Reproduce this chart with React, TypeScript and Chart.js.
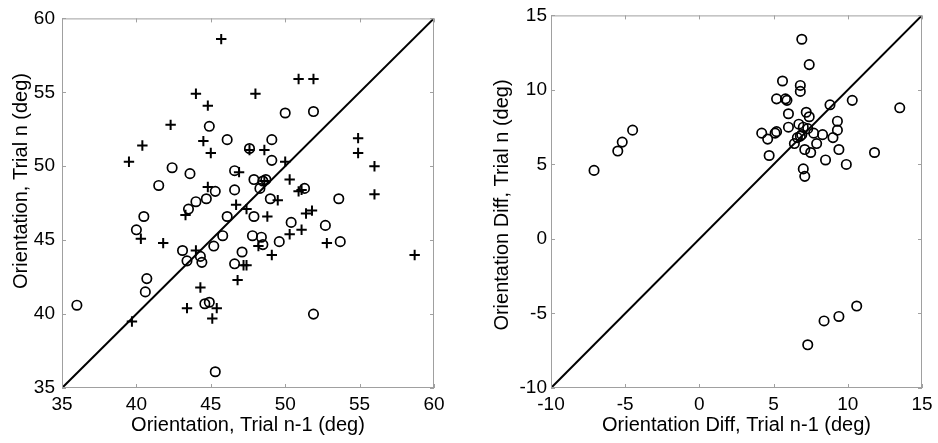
import React, { useEffect, useRef } from 'react';
import { Chart, registerables } from 'chart.js';

Chart.register(...registerables);

// ---- Left panel: Orientation (deg) ----
const leftTicks = [35, 40, 45, 50, 55, 60];
const leftCirclePrev = [36.0, 40.0, 40.5, 40.7, 40.6, 41.5, 42.4, 43.1, 43.4, 43.6, 43.5, 44.0, 44.3, 44.4, 44.7, 44.6, 44.9, 44.9, 45.3, 45.2, 45.3, 45.8, 46.1, 46.1, 46.6, 46.6, 46.6, 47.1, 47.6, 47.9, 47.9, 47.8, 48.3, 48.4, 48.5, 48.5, 48.7, 49.0, 49.1, 49.1, 49.6, 50.0, 50.4, 51.3, 51.9, 51.9, 52.7, 53.6, 53.7];
const leftCircleCurr = [40.6, 45.7, 46.6, 42.4, 41.5, 48.7, 49.9, 44.3, 43.6, 49.5, 47.1, 47.6, 43.9, 43.5, 47.8, 40.7, 40.8, 52.7, 48.3, 44.6, 36.1, 45.3, 46.6, 51.8, 49.7, 48.4, 43.4, 44.2, 51.2, 49.1, 46.6, 45.3, 48.5, 45.2, 44.7, 49.0, 49.1, 47.8, 51.8, 50.4, 44.9, 53.6, 46.2, 48.5, 53.7, 40.0, 46.0, 47.8, 44.9];
const leftPlusPrev = [45.7, 50.9, 51.9, 44.0, 48.0, 44.8, 42.3, 44.5, 40.4, 45.0, 48.6, 47.6, 39.5, 50.0, 54.9, 54.9, 56.0, 56.0, 46.9, 50.3, 44.8, 48.6, 50.9, 51.1, 46.7, 47.4, 49.5, 43.3, 51.4, 51.8, 48.8, 40.3, 41.8, 44.0, 50.3, 51.1, 52.8, 49.1, 48.2, 58.7, 47.2, 47.4, 46.8, 44.3, 43.4, 45.4, 45.1, 39.7];
const leftPlusCurr = [58.6, 55.9, 55.9, 54.9, 54.9, 54.1, 52.8, 51.7, 51.4, 50.9, 51.1, 51.1, 50.3, 50.3, 51.9, 50.9, 50.0, 48.1, 49.6, 49.1, 48.6, 49.0, 48.3, 48.4, 47.4, 47.1, 47.7, 46.7, 46.8, 47.0, 46.6, 45.1, 44.8, 44.3, 45.4, 45.7, 44.8, 44.0, 44.6, 44.0, 43.3, 43.3, 42.3, 41.8, 40.4, 40.4, 39.7, 39.5];

// ---- Right panel: Orientation Diff (deg) ----
const rightTicks = [-10, -5, 0, 5, 10, 15];
const rightCirclePrev = [-7.1, -5.5, -5.2, -4.5, 6.9, 7.4, 5.6, 6.8, 6.8, 5.2, 5.8, 5.9, 6.0, 8.8, 10.3, 13.5, 7.2, 7.4, 9.3, 9.3, 6.0, 4.2, 4.6, 5.1, 5.2, 4.7, 6.7, 7.0, 7.3, 7.7, 8.3, 9.0, 7.9, 6.4, 6.6, 6.8, 6.9, 7.1, 7.5, 9.4, 11.8, 8.5, 9.9, 7.0, 7.1, 8.4, 9.4, 10.6, 7.3];
const rightCircleCurr = [4.6, 5.9, 6.5, 7.3, 13.4, 11.7, 10.6, 10.3, 9.9, 9.4, 9.4, 9.3, 8.4, 9.0, 9.3, 8.8, 8.5, 8.2, 7.9, 7.3, 7.5, 7.1, 6.7, 7.1, 7.2, 5.6, 7.7, 7.5, 7.4, 7.1, 7.0, 6.8, 6.4, 6.4, 6.8, 6.9, 7.0, 6.0, 5.8, 6.0, 5.8, 5.3, 5.0, 4.7, 4.2, -5.5, -5.2, -4.5, -7.1];

const FONT = "'Liberation Sans', Arial, Helvetica, sans-serif";
const FRAME = '#a0a0a0';
const TICK_SIZE = 19;
const TITLE_SIZE = 20;

const pts = (xs: number[], ys: number[]) => xs.map((x, i) => ({ x, y: ys[i] }));

const framePlugin = {
  id: 'matFrame',
  afterDraw(chart: any, _a: any, opts: any) {
    const { ctx, chartArea: a, scales } = chart;
    ctx.save();
    ctx.strokeStyle = FRAME;
    ctx.lineWidth = 1;
    ctx.strokeRect(a.left + 0.5, a.top + 0.5, a.right - a.left - 1, a.bottom - a.top - 1);
    const len = 4;
    ctx.beginPath();
    for (const t of opts.ticks) {
      const px = Math.round(scales.x.getPixelForValue(t)) + 0.5;
      ctx.moveTo(px, a.bottom); ctx.lineTo(px, a.bottom - len);
      ctx.moveTo(px, a.top); ctx.lineTo(px, a.top + len);
      const py = Math.round(scales.y.getPixelForValue(t)) + 0.5;
      ctx.moveTo(a.left, py); ctx.lineTo(a.left + len, py);
      ctx.moveTo(a.right, py); ctx.lineTo(a.right - len, py);
    }
    ctx.stroke();
    // axis titles
    ctx.fillStyle = '#000';
    ctx.font = `${TITLE_SIZE}px ${FONT}`;
    ctx.textAlign = 'center';
    ctx.textBaseline = 'middle';
    ctx.fillText(opts.xTitle, (a.left + a.right) / 2, opts.xTitleY);
    ctx.translate(opts.yTitleX, opts.yTitleY);
    ctx.rotate(-Math.PI / 2);
    ctx.fillText(opts.yTitle, 0, 0);
    ctx.restore();
  },
};

type PanelSpec = {
  ticks: number[];
  circles: { x: number; y: number }[];
  pluses?: { x: number; y: number }[];
  yAxisWidth: number;
  rightPad: number;
  yLabelPad: number;
  xTitle: string;
  yTitle: string;
  yTitleX: number;
  yTitleY: number;
};

function Panel({ spec, left }: { spec: PanelSpec; left: number }) {
  const ref = useRef<HTMLCanvasElement | null>(null);
  useEffect(() => {
    if (!ref.current) return;
    const lo = spec.ticks[0];
    const hi = spec.ticks[spec.ticks.length - 1];
    const datasets: any[] = [
      {
        type: 'line',
        data: [{ x: lo, y: lo }, { x: hi, y: hi }],
        borderColor: '#000',
        borderWidth: 2,
        pointRadius: 0,
        fill: false,
        order: 0,
      },
      {
        type: 'scatter',
        data: spec.circles,
        pointStyle: 'circle',
        pointRadius: 4.7,
        pointBorderWidth: 1.7,
        borderColor: '#000',
        backgroundColor: 'rgba(0,0,0,0)',
        order: 1,
      },
    ];
    if (spec.pluses) {
      datasets.push({
        type: 'scatter',
        data: spec.pluses,
        pointStyle: 'cross',
        pointRadius: 5.2,
        pointBorderWidth: 2,
        borderColor: '#000',
        backgroundColor: '#000',
        order: 2,
      });
    }
    const chart = new Chart(ref.current, {
      type: 'scatter',
      data: { datasets },
      options: {
        animation: false,
        responsive: false,
        events: [],
        layout: { padding: { top: 15, right: spec.rightPad, left: 0, bottom: 0 } },
        plugins: {
          legend: { display: false },
          tooltip: { enabled: false },
          matFrame: {
            ticks: spec.ticks,
            xTitle: spec.xTitle,
            yTitle: spec.yTitle,
            xTitleY: 425,
            yTitleX: spec.yTitleX,
            yTitleY: spec.yTitleY,
          },
        } as any,
        scales: {
          x: {
            type: 'linear',
            min: lo,
            max: hi,
            afterBuildTicks: (s: any) => { s.ticks = spec.ticks.map((v) => ({ value: v })); },
            afterFit: (s: any) => { s.height = 55; },
            grid: { display: false, drawTicks: false },
            border: { display: false },
            ticks: { color: '#000', padding: 5, maxRotation: 0, font: { family: FONT, size: TICK_SIZE } },
          },
          y: {
            type: 'linear',
            min: lo,
            max: hi,
            afterBuildTicks: (s: any) => { s.ticks = spec.ticks.map((v) => ({ value: v })); },
            afterFit: (s: any) => { s.width = spec.yAxisWidth; },
            grid: { display: false, drawTicks: false },
            border: { display: false },
            ticks: { color: '#000', padding: spec.yLabelPad, font: { family: FONT, size: TICK_SIZE } },
          },
        },
      },
      plugins: [framePlugin],
    } as any);
    return () => chart.destroy();
  }, [spec]);
  return (
    <canvas
      ref={ref}
      width={469}
      height={443}
      style={{ position: 'absolute', left, top: 0, width: 469, height: 443 }}
    />
  );
}

const leftSpec: PanelSpec = {
  ticks: leftTicks,
  circles: pts(leftCirclePrev, leftCircleCurr),
  pluses: pts(leftPlusPrev, leftPlusCurr),
  yAxisWidth: 62,
  rightPad: 35,
  yLabelPad: 7,
  xTitle: 'Orientation, Trial n-1 (deg)',
  yTitle: 'Orientation, Trial n (deg)',
  yTitleX: 21,
  yTitleY: 181,
};

const rightSpec: PanelSpec = {
  ticks: rightTicks,
  circles: pts(rightCirclePrev, rightCircleCurr),
  yAxisWidth: 82,
  rightPad: 16,
  yLabelPad: 4,
  xTitle: 'Orientation Diff, Trial n-1 (deg)',
  yTitle: 'Orientation Diff, Trial n (deg)',
  yTitleX: 33,
  yTitleY: 205,
};

export default function App() {
  return (
    <div style={{ position: 'fixed', left: 0, top: 0, width: 938, height: 443, background: '#fff' }}>
      <Panel spec={leftSpec} left={0} />
      <Panel spec={rightSpec} left={469} />
    </div>
  );
}
